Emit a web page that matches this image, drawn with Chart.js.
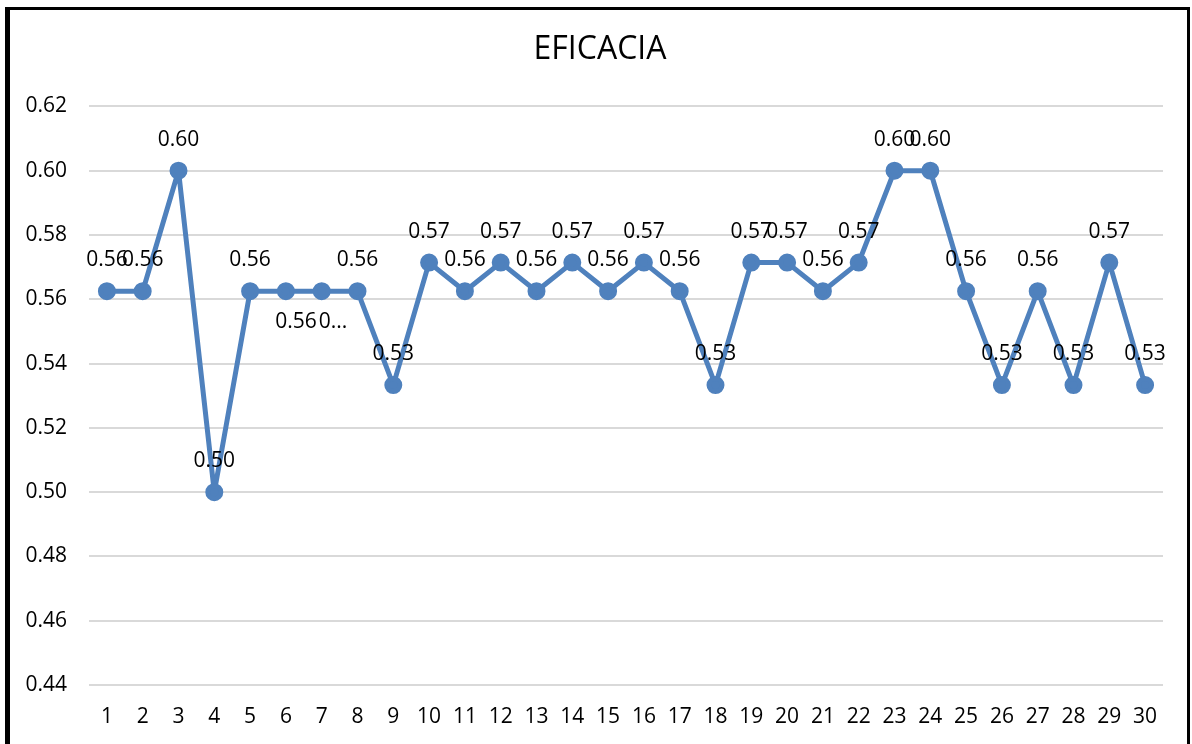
<!DOCTYPE html>
<html>
<head>
<meta charset="utf-8">
<script src="https://cdn.jsdelivr.net/npm/chart.js@4"></script>
<style>
  body { margin: 0; background: #fff; }
  #wrap { position: relative; width: 1192px; height: 744px; }
  #marco { position: absolute; left: 5px; top: 7px; width: 1177px; height: 740px;
           border-left: 5px solid #000; border-top: 3px solid #000; border-right: 3px solid #000; }
  canvas { position: absolute; left: 0; top: 0; }
</style>
</head>
<body>
<div id="wrap">
  <canvas id="grafic" width="1192" height="744"></canvas>
  <div id="marco"></div>
</div>
<script>
const categories = ['1','2','3','4','5','6','7','8','9','10','11','12','13','14','15',
                    '16','17','18','19','20','21','22','23','24','25','26','27','28','29','30'];
const eficacia = [0.5625, 0.5625, 0.60, 0.50, 0.5625, 0.5625, 0.5625, 0.5625, 0.5333, 0.5714,
                  0.5625, 0.5714, 0.5625, 0.5714, 0.5625, 0.5714, 0.5625, 0.5333, 0.5714, 0.5714,
                  0.5625, 0.5714, 0.60, 0.60, 0.5625, 0.5333, 0.5625, 0.5333, 0.5714, 0.5333];
const yTicks = [0.44, 0.46, 0.48, 0.50, 0.52, 0.54, 0.56, 0.58, 0.60, 0.62];

const FONT = '"Open Sans", "Liberation Sans", sans-serif';
const BLAU = '#4f81bd';

// etiquetes de dades com a l'Excel: la 6 i la 7 van a sota
const sota = { 5: 10, 6: 0 };
const etiquetes = {
    id: 'etiquetes',
    afterDatasetsDraw(chart) {
        const ctx = chart.ctx;
        const meta = chart.getDatasetMeta(0);
        ctx.save();
        ctx.font = '21px ' + FONT;
        ctx.fillStyle = '#000';
        ctx.textBaseline = 'middle';
        meta.data.forEach((p, i) => {
            const txt = eficacia[i].toFixed(2);
            if (i === 6) {
                // l'Excel la talla perquè no hi cap
                ctx.textAlign = 'left';
                ctx.fillText('0...', p.x - 3, p.y + 31);
            } else if (i in sota) {
                ctx.textAlign = 'center';
                ctx.fillText(txt, p.x + sota[i], p.y + 31);
            } else {
                ctx.textAlign = 'center';
                ctx.fillText(txt, p.x, p.y - 31);
            }
        });
        ctx.restore();
    }
};

new Chart(document.getElementById('grafic'), {
    type: 'line',
    data: {
        labels: categories,
        datasets: [{
            data: eficacia,
            borderColor: BLAU,
            backgroundColor: BLAU,
            borderWidth: 5,
            borderJoinStyle: 'round',
            borderCapStyle: 'round',
            pointRadius: 6.5,
            pointBackgroundColor: BLAU,
            pointBorderColor: BLAU,
            tension: 0
        }]
    },
    options: {
        responsive: false,
        animation: false,
        layout: { padding: { left: 8, right: 0, bottom: 0 } },
        plugins: {
            legend: { display: false },
            tooltip: { enabled: false },
            title: {
                display: true,
                text: 'EFICACIA',
                color: '#000',
                font: { family: FONT, size: 32, weight: 'normal', lineHeight: 1.2 },
                padding: { top: 31, bottom: 37 }
            }
        },
        scales: {
            x: {
                offset: true,
                afterFit(s) { s.height = 59; },
                grid: { display: false, drawTicks: false },
                border: { display: false },
                ticks: { color: '#000', padding: 19, maxRotation: 0, autoSkip: false,
                         font: { family: FONT, size: 21 } }
            },
            y: {
                min: 0.44,
                max: 0.62,
                afterFit(s) { s.width = 81; },
                afterBuildTicks(s) { s.ticks = yTicks.map(v => ({ value: v })); },
                grid: { color: '#d9d9d9', lineWidth: 2, drawTicks: false },
                border: { display: false },
                ticks: { color: '#000', padding: 22, callback: v => v.toFixed(2),
                         font: { family: FONT, size: 21 } }
            },
            // marge buit a la dreta, com l'àrea de traçat de l'Excel
            dreta: {
                position: 'right',
                afterFit(s) { s.width = 29; },
                grid: { display: false, drawTicks: false },
                border: { display: false },
                ticks: { display: false }
            }
        }
    },
    plugins: [etiquetes]
});
</script>
</body>
</html>
